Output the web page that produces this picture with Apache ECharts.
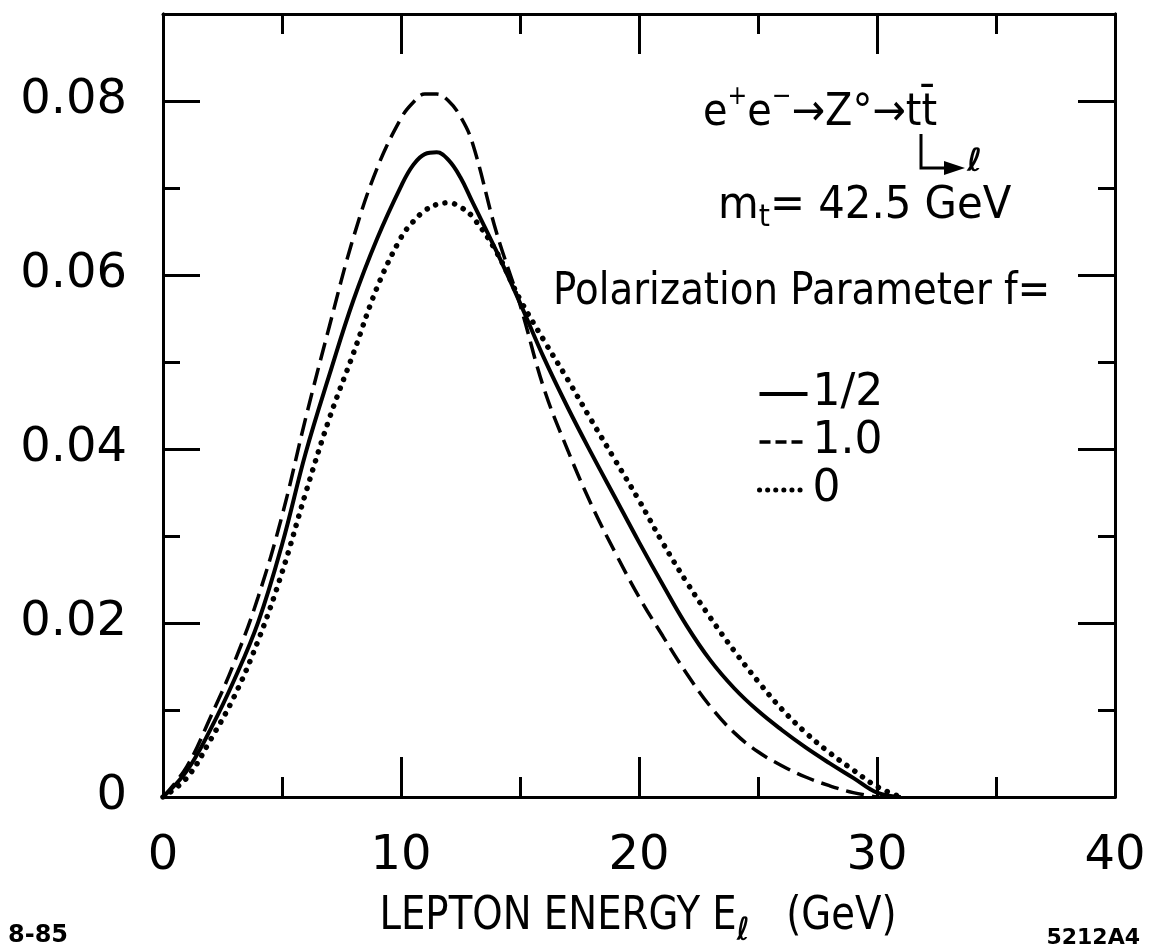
<!DOCTYPE html>
<html>
<head>
<meta charset="utf-8">
<script src="https://cdn.jsdelivr.net/npm/echarts@6/dist/echarts.min.js"></script>
<style>
html,body{margin:0;padding:0;background:#fff;}
#chart{width:1152px;height:951px;}
</style>
</head>
<body>
<div id="chart"></div>
<script>
// Lepton energy (GeV)
const energy = [0,1,2,3,4,5,6,7,8,9,10,10.5,11,11.5,12,12.5,13,14,15,16,17,18,19,20,21,22,23,24,25,26,27,28,29,30,31];
// f = 1/2 (solid)
const fHalf = [0,0.0030,0.0078,0.0135,0.0201,0.0290,0.0396,0.0486,0.0571,0.0642,0.0702,0.0726,0.0739,0.0741,0.0732,0.0712,0.0684,0.0628,0.0568,0.0505,0.0448,0.0395,0.0344,0.0293,0.0244,0.0197,0.0157,0.0125,0.0099,0.0077,0.0057,0.0039,0.0022,0.0005,0];
// f = 1.0 (dashed)
const fOne = [0,0.0035,0.0092,0.0155,0.0230,0.0323,0.0436,0.0542,0.0643,0.0723,0.0780,0.0798,0.0808,0.0808,0.0800,0.0782,0.0752,0.0650,0.0566,0.0470,0.0399,0.0336,0.0281,0.0230,0.0185,0.0142,0.0104,0.0074,0.0052,0.0036,0.0023,0.0013,0.0005,0,null];
// f = 0 (dotted)
const fZero = [0,0.0022,0.0066,0.0116,0.0180,0.0258,0.0350,0.0436,0.0510,0.0586,0.0643,0.0661,0.0674,0.0681,0.0683,0.0678,0.0667,0.0627,0.0572,0.0525,0.0480,0.0433,0.0387,0.0341,0.0292,0.0247,0.0206,0.0168,0.0133,0.0101,0.0074,0.0051,0.0031,0.0012,0];
const seriesNames = ['1/2','1.0','0'];

const FONT = 'DejaVu Sans';
const toPairs = arr => energy.map((x,i) => [x, arr[i]]);

const chart = echarts.init(document.getElementById('chart'), null, {renderer:'canvas'});

const black = '#000';
function yAx(position, interval, tickLen, labels){
  return {
    type:'value', position:position, min:0, max:0.09, interval:interval,
    axisLine:{show:true, onZero:false, lineStyle:{color:black, width:3}},
    axisTick:{show:true, inside:true, length:tickLen, lineStyle:{color:black, width:3}},
    splitLine:{show:false},
    axisLabel:{show:labels, showMaxLabel:false, margin:36, color:black, fontFamily:FONT, fontSize:48,
      formatter: v => v === 0 ? '0' : v.toFixed(2)}
  };
}
function xAx(position, labels){
  return {
    type:'value', position:position, min:0, max:40, interval:10,
    axisLine:{show:true, onZero:false, lineStyle:{color:black, width:3}},
    axisTick:{show:true, inside:true, length:40, lineStyle:{color:black, width:3}},
    minorTick:{show:true, splitNumber:2, length:20, lineStyle:{color:black, width:3}},
    splitLine:{show:false}, minorSplitLine:{show:false},
    axisLabel:{show:labels, margin:36, color:black, fontFamily:FONT, fontSize:48}
  };
}

const option = {
  backgroundColor:'#fff',
  animation:false,
  grid:{left:163, right:37, top:14, bottom:154, containLabel:false},
  xAxis:[ xAx('bottom', true), xAx('top', false) ],
  yAxis:[ yAx('left',0.02,37,true), yAx('left',0.01,17,false), yAx('right',0.02,37,false), yAx('right',0.01,17,false) ],
  legend:{
    orient:'vertical', left:757, top:370, padding:0, itemWidth:48, itemHeight:14, itemGap:0,
    itemStyle:{opacity:0},
    lineStyle:{width:'inherit'},
    data:[
      {name:seriesNames[0]},
      {name:seriesNames[1], lineStyle:{type:[11,5], width:3.5}},
      {name:seriesNames[2], lineStyle:{type:[0.1,8], width:5, cap:'round'}}
    ],
    textStyle:{color:black, fontFamily:FONT, fontSize:44, lineHeight:48}
  },
  series:[
    {name:seriesNames[0], type:'line', data:toPairs(fHalf), smooth:0.4, symbol:'none',
     lineStyle:{color:black, width:4}},
    {name:seriesNames[1], type:'line', data:toPairs(fOne), smooth:0.4, symbol:'none',
     lineStyle:{color:black, width:3.5, type:[18,8]}},
    {name:seriesNames[2], type:'line', data:toPairs(fZero), smooth:0.4, symbol:'none',
     lineStyle:{color:black, width:5.5, type:[0.1,9.5], cap:'round'}}
  ],
  graphic:[
    // reaction
    {type:'text', x:703, y:106, scaleX:0.907, style:{
      text:'{a|e}{s|+}{a|e}{s|−}{a|→Z°→tt\u0304}',
      textVerticalAlign:'middle', textAlign:'left',
      rich:{
        a:{fontSize:44, lineHeight:44, verticalAlign:'top', padding:[8,0,0,0], fontFamily:FONT, fill:black},
        s:{fontSize:26, lineHeight:26, verticalAlign:'top', fontFamily:FONT, fill:black}
      }
    }},
    {type:'polyline', shape:{points:[[921,134],[921,168],[950,168]]}, style:{stroke:black, lineWidth:3, fill:null}},
    {type:'polygon', shape:{points:[[944,161],[965,168],[944,175]]}, style:{fill:black}},
    {type:'text', x:967, y:163, style:{text:'ℓ', font:'italic bold 32px "DejaVu Sans"', fill:black, textVerticalAlign:'middle'}},
    // top mass
    {type:'text', x:718, y:207, scaleX:0.95, style:{
      text:'{a|m}{s|t}{a|= 42.5 GeV}',
      textVerticalAlign:'middle', textAlign:'left',
      rich:{
        a:{fontSize:44, lineHeight:44, verticalAlign:'top', fontFamily:FONT, fill:black},
        s:{fontSize:30, lineHeight:30, verticalAlign:'top', padding:[18,0,0,0], fontFamily:FONT, fill:black}
      }
    }},
    {type:'text', x:553, y:293, scaleX:0.88, style:{text:'Polarization Parameter f=', font:'44px "DejaVu Sans"', fill:black, textVerticalAlign:'middle'}},
    // x-axis title
    {type:'text', x:638, y:917, scaleX:0.84, style:{
      text:'{a|LEPTON ENERGY E}{s|ℓ}{a|   (GeV)}',
      textVerticalAlign:'middle', textAlign:'center',
      rich:{
        a:{fontSize:46, lineHeight:46, verticalAlign:'top', fontFamily:FONT, fill:black},
        s:{fontSize:32, lineHeight:32, verticalAlign:'top', padding:[22,0,0,0], fontFamily:FONT, fontStyle:'italic', fontWeight:'bold', fill:black}
      }
    }},
    {type:'text', x:8, y:936, style:{text:'8-85', font:'bold 24px "DejaVu Sans"', fill:black, textVerticalAlign:'middle'}},
    {type:'text', x:1140, y:938, style:{text:'5212A4', font:'bold 22px "DejaVu Sans"', fill:black, textVerticalAlign:'middle', textAlign:'right'}}
  ]
};
chart.setOption(option);
</script>
</body>
</html>
